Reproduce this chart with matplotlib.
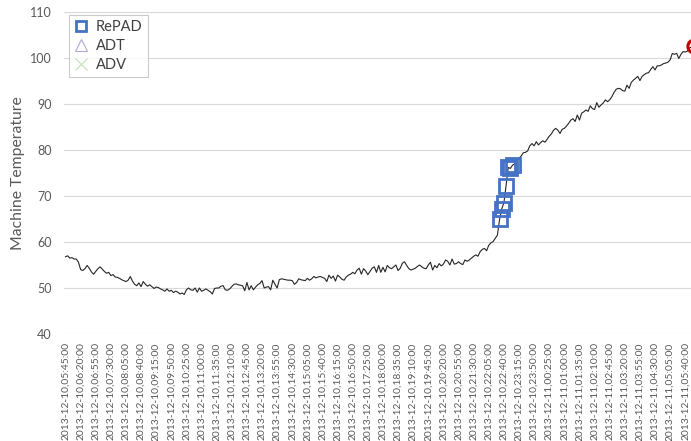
import matplotlib
matplotlib.use("Agg")
import matplotlib.pyplot as plt
import numpy as np
import pandas as pd

plt.rcParams["font.family"] = ["Lato", "DejaVu Sans"]

# 5-minute readings, 2013-12-10 05:45 onwards
timestamps = pd.date_range("2013-12-10 05:45:00", periods=292, freq="5min")
temperature = [
    56.8, 57.0, 56.5, 56.6, 56.3, 56.3, 55.6, 54.0, 53.8, 54.2,
    54.9, 54.3, 53.5, 53.0, 53.6, 54.2, 54.6, 54.1, 53.6, 53.2,
    53.4, 52.7, 52.9, 52.4, 52.3, 52.1, 51.8, 51.6, 51.4, 51.7,
    52.5, 51.5, 50.8, 50.5, 51.1, 50.3, 51.4, 50.8, 50.4, 50.7,
    50.3, 49.9, 50.2, 50.1, 49.8, 49.6, 49.3, 49.8, 49.3, 49.5,
    49.0, 49.3, 49.1, 48.7, 48.9, 48.6,
    49.6, 50.0, 49.6, 49.5, 50.0, 49.1, 50.0, 49.3, 49.5, 49.8,
    49.5, 49.2, 48.7, 49.9, 50.0, 50.0, 50.4, 50.5, 49.6, 49.5,
    49.8, 50.3, 50.8, 50.9, 50.7, 50.6, 50.5, 49.4, 51.2, 49.6,
    50.5, 49.6, 50.2, 50.7, 51.0, 51.6, 50.0, 50.2, 50.3, 49.6,
    51.7, 50.8, 50.0, 51.8, 52.0, 51.9, 51.8, 51.7, 51.7, 51.6,
    50.8, 51.2, 52.0, 51.8, 51.7, 51.6, 52.1,
    51.7, 52.0, 52.5, 52.2, 52.4, 52.5, 52.3, 52.1, 51.4, 52.8,
    52.1, 52.6, 51.5, 52.8, 52.4, 51.9, 51.7, 52.4, 52.8, 53.0,
    53.4, 53.1, 53.9, 54.3, 53.0, 54.2, 53.7, 52.9, 53.6, 54.3,
    54.6, 53.4, 54.9, 53.4, 54.5, 53.5, 54.9, 54.4, 54.2, 54.6,
    55.0, 53.8, 54.3, 55.4, 55.7, 54.9, 54.2, 53.9, 54.1, 54.3,
    54.7, 55.0, 54.6, 54.3, 54.2, 55.0, 55.6, 53.9, 54.9, 54.4,
    55.3, 54.8, 55.2, 56.1, 55.8, 55.0,
    56.3, 55.2, 55.3, 55.7, 55.3, 55.1, 56.1, 55.8, 56.1, 56.5,
    56.9, 57.2, 56.9, 57.9, 58.4, 58.6, 58.1, 59.3, 59.8, 60.1,
    60.8, 61.5, 64.9, 67.2, 68.5, 72.2, 76.2, 76.0, 76.7, 77.0,
    77.6, 78.2, 78.7, 79.4, 79.5, 79.8, 80.9, 81.4, 80.9, 81.8,
    81.1, 81.6, 82.0, 81.7, 82.3, 83.0, 83.5, 84.3, 84.7, 84.3,
    83.6, 84.5, 84.7, 85.2, 85.8, 86.5, 86.8, 86.2, 87.6, 86.5,
    88.0, 88.3, 88.7, 88.4, 89.6, 89.0, 88.8, 90.3, 89.3, 89.8,
    90.2, 90.9, 90.5, 90.9, 91.6, 92.5, 93.2, 93.4, 93.3, 92.9,
    92.8, 94.1, 93.4, 94.7, 95.2, 95.6, 96.0, 95.1, 96.0, 96.4,
    96.7, 96.8, 97.5, 98.1, 97.4, 98.3, 98.3, 98.5, 98.8, 98.9,
    99.1, 99.6, 101.0, 100.8, 101.0, 99.9, 100.8, 101.4, 101.3, 101.5,
    102.2, 102.4, 102.6,
]
repad_idx = [201, 202, 203, 204, 205, 206, 207]
adt_idx = []
adv_idx = []
alarm_idx = [291]
yticks = [40, 50, 60, 70, 80, 90, 100, 110]
label_step = 7

x = np.arange(len(temperature))
temp = np.array(temperature)
labels = [t.strftime("%Y-%m-%d,%H:%M:%S") for t in timestamps]

fig = plt.figure(figsize=(6.91, 4.41), dpi=100)
ax = fig.add_axes([64 / 691, 107 / 441, 631 / 691, 322 / 441])

ax.plot(x, temp, color="#262626", linewidth=0.8, zorder=3)
ax.plot(repad_idx, temp[repad_idx], ls="none", marker="s", markersize=9.5,
        mfc="none", mec="#4472C4", mew=2.0, label="RePAD", zorder=4)
ax.plot(adt_idx, temp[adt_idx], ls="none", marker="^", markersize=8,
        mfc="none", mec="#B4A7D6", mew=0.8, label="ADT")
ax.plot(adv_idx, temp[adv_idx], ls="none", marker="x", markersize=8,
        mec="#C5E0B4", mew=0.8, label="ADV")
ax.plot(alarm_idx, temp[alarm_idx], ls="none", marker="o", markersize=9.5,
        mfc="none", mec="#C00000", mew=2.2, clip_on=False, zorder=5)

ax.set_xlim(-0.7, len(temperature) - 0.5)
ax.set_ylim(40, 110)
ax.set_yticks(yticks)
ax.yaxis.grid(True, color="#D9D9D9", linewidth=0.8)
ax.set_axisbelow(True)
for s in ax.spines.values():
    s.set_visible(False)

ticks = x[::label_step]
ax.set_xticks(ticks)
ax.set_xticklabels([labels[i] for i in ticks], rotation=90, fontsize=7.4,
                   color="#595959", va="top")
ax.tick_params(axis="x", length=0, pad=6)
ax.tick_params(axis="y", length=0, pad=9, labelsize=9, labelcolor="#595959")
ax.set_ylabel("Machine Temperature", fontsize=11.3, color="#595959")
ax.yaxis.set_label_coords(-(64 - 25) / 631, 0.5)

leg = ax.legend(loc="upper left", bbox_to_anchor=(69 / 691, 1 - 15 / 441),
                bbox_transform=fig.transFigure, borderaxespad=0, fontsize=10.5,
                frameon=True, fancybox=False, edgecolor="#BFBFBF",
                labelcolor="#404040", handlelength=1.0, handletextpad=0.5,
                labelspacing=0.33, borderpad=0.35)
leg.get_frame().set_linewidth(0.8)
for h, ms in zip(leg.legend_handles, [7.5, 8.5, 8.5]):
    h.set_markersize(ms)

fig.savefig("out.png", dpi=100)
